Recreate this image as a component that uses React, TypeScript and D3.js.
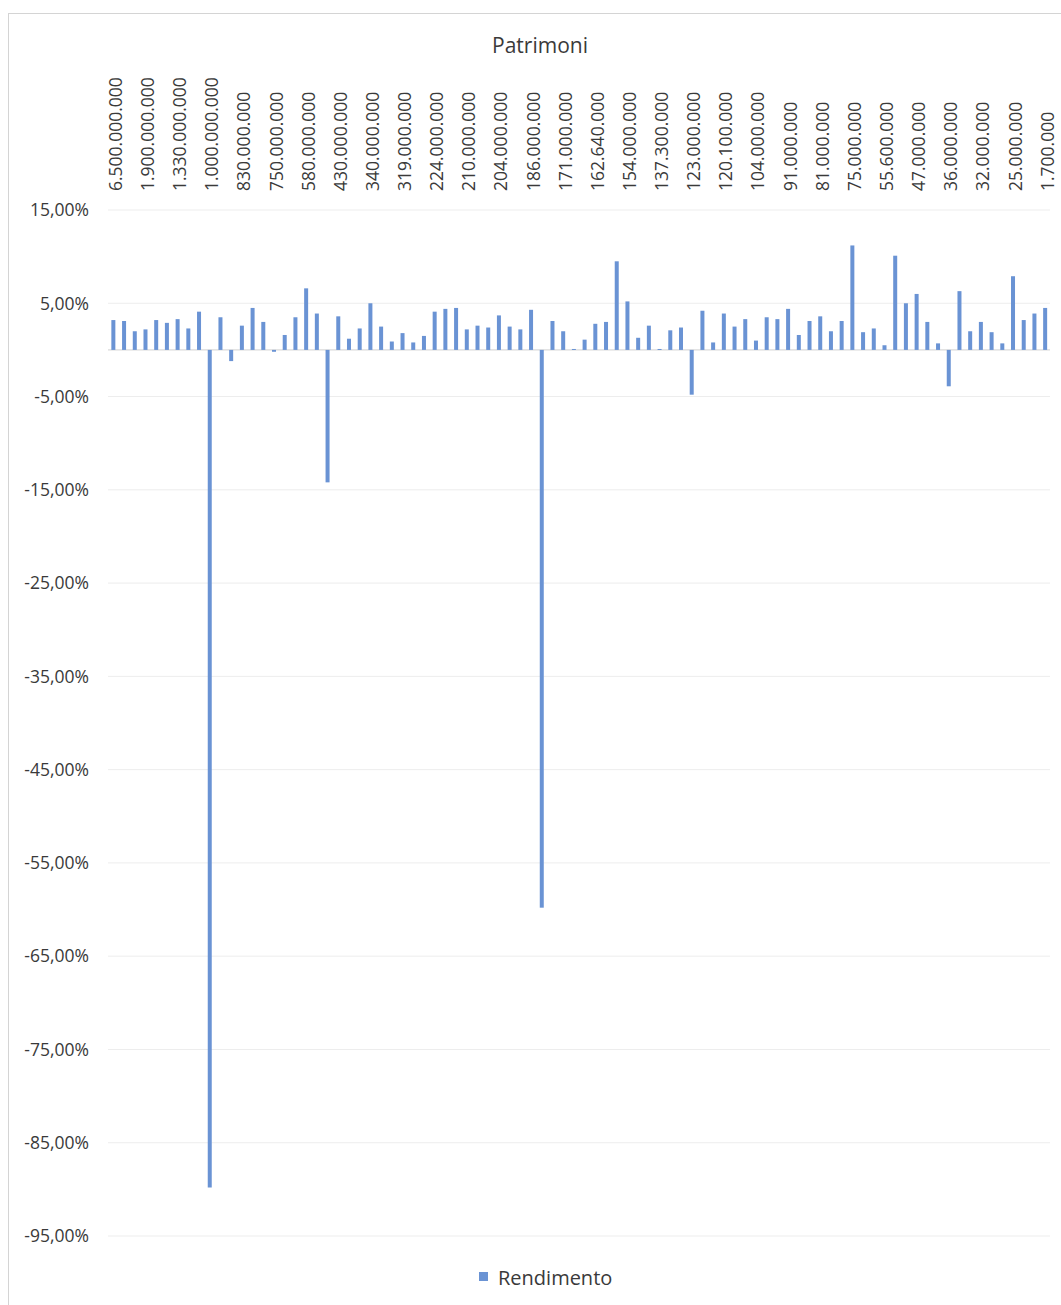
import * as d3 from "d3";

// every third category carries a label on the top axis
const patrimoniLabels = [
  "6.500.000.000", "1.900.000.000", "1.330.000.000", "1.000.000.000", "830.000.000",
  "750.000.000", "580.000.000", "430.000.000", "340.000.000", "319.000.000",
  "224.000.000", "210.000.000", "204.000.000", "186.000.000", "171.000.000",
  "162.640.000", "154.000.000", "137.300.000", "123.000.000", "120.100.000",
  "104.000.000", "91.000.000", "81.000.000", "75.000.000", "55.600.000",
  "47.000.000", "36.000.000", "32.000.000", "25.000.000", "1.700.000",
];

// Rendimento (%) per fund, in order
const rendimento = [
  3.2, 3.1, 2.0, 2.2, 3.2, 2.9, 3.3, 2.3, 4.1, -89.8,
  3.5, -1.2, 2.6, 4.5, 3.0, -0.2, 1.6, 3.5, 6.6, 3.9,
  -14.2, 3.6, 1.2, 2.3, 5.0, 2.5, 0.9, 1.8, 0.8, 1.5,
  4.1, 4.4, 4.5, 2.2, 2.6, 2.4, 3.7, 2.5, 2.2, 4.3,
  -59.8, 3.1, 2.0, 0.1, 1.1, 2.8, 3.0, 9.5, 5.2, 1.3,
  2.6, 0.1, 2.1, 2.4, -4.8, 4.2, 0.8, 3.9, 2.5, 3.3,
  1.0, 3.5, 3.3, 4.4, 1.6, 3.1, 3.6, 2.0, 3.1, 11.2,
  1.9, 2.3, 0.5, 10.1, 5.0, 6.0, 3.0, 0.7, -3.9, 6.3,
  2.0, 3.0, 1.9, 0.7, 7.9, 3.2, 3.9, 4.5,
];

const yTicks = [15, 5, -5, -15, -25, -35, -45, -55, -65, -75, -85, -95];

const W = 1061;
const H = 1305;
const FONT = "'Open Sans', 'Liberation Sans', sans-serif";
const BAR = "#6a93d4";
const TXT = "#3a3a3a";

export default function App() {
  const x = d3
    .scaleBand<number>()
    .domain(d3.range(rendimento.length))
    .range([108, 1050.5]);
  const y = d3.scaleLinear().domain([-95, 15]).range([1236, 210]);
  const fmt = (v: number) => v.toFixed(2).replace(".", ",") + "%";
  const bw = 4;

  return (
    <svg
      width={W}
      height={H}
      style={{ position: "absolute", left: 0, top: 0, background: "#fff" }}
      fontFamily={FONT}
    >
      <rect x={8.5} y={13.5} width={W} height={H} fill="none" stroke="#d4d4d4" />

      {/* gridlines */}
      {yTicks.map((t) => (
        <line
          key={t}
          x1={108}
          x2={1050}
          y1={y(t)}
          y2={y(t)}
          stroke="#ededed"
          strokeWidth={1}
        />
      ))}
      <line x1={108} x2={1050} y1={y(0)} y2={y(0)} stroke="#d0d0d0" />

      {/* y tick labels */}
      {yTicks.map((t) => (
        <text
          key={t}
          x={89}
          y={y(t)}
          dy="0.36em"
          textAnchor="end"
          fontSize={17.5}
          fill={TXT}
        >
          {fmt(t)}
        </text>
      ))}

      {/* bars */}
      {rendimento.map((v, i) => (
        <rect
          key={i}
          x={x(i)! + x.bandwidth() / 2 - bw / 2}
          width={bw}
          y={Math.min(y(v), y(0))}
          height={Math.max(1, Math.abs(y(v) - y(0)))}
          fill={BAR}
        />
      ))}

      {/* top category labels */}
      {patrimoniLabels.map((l, k) => {
        const i = k * 3;
        const cx = x(i)! + x.bandwidth() / 2;
        return (
          <text
            key={l}
            transform={`translate(${cx + 8.5},191) rotate(-90)`}
            textAnchor="start"
            fontSize={17.5}
            fill={TXT}
          >
            {l}
          </text>
        );
      })}

      {/* axis title */}
      <text x={540} y={53} textAnchor="middle" fontSize={21} fill={TXT}>
        Patrimoni
      </text>

      {/* legend */}
      <rect x={479} y={1272} width={9} height={9} fill={BAR} />
      <text x={498} y={1285} fontSize={20} fill={TXT}>
        Rendimento
      </text>
    </svg>
  );
}
